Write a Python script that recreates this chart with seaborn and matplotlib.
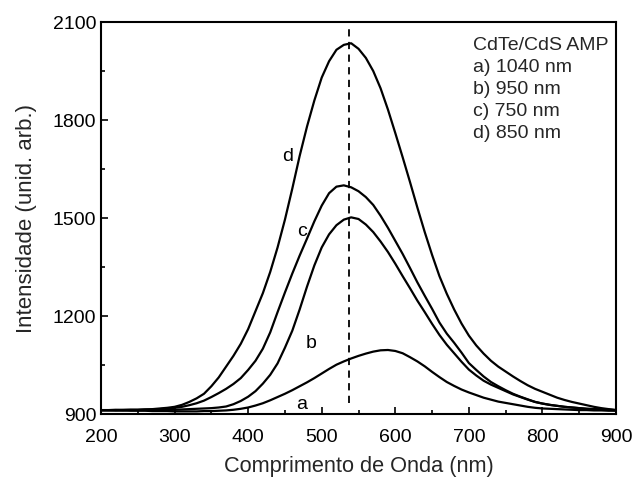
import numpy as np
import pandas as pd
import seaborn as sns
import matplotlib
matplotlib.use("Agg")
import matplotlib.pyplot as plt
from matplotlib.ticker import MultipleLocator

wavelength = list(range(200, 901, 10))

curve_a = [912, 912, 911, 911, 910, 910, 910, 909, 909, 909,
           908, 908, 908, 908, 909, 909, 910, 911, 913, 916,
           920, 926, 933, 942, 952, 962, 973, 985, 997, 1010,
           1024, 1038, 1051, 1061, 1070, 1078, 1085, 1091, 1095, 1096,
           1093, 1086, 1074, 1061, 1046, 1029, 1013, 998, 986, 975,
           966, 958, 950, 944, 938, 934, 930, 926, 922, 919,
           917, 916, 915, 914, 913, 912, 912, 911, 911, 910, 910]

curve_b = [911, 911, 911, 911, 912, 912, 912, 912, 912, 913,
           913, 914, 915, 916, 917, 918, 920, 923, 930, 940,
           953, 970, 993, 1020, 1055, 1103, 1155, 1220, 1290, 1355,
           1410, 1450, 1478, 1495, 1502, 1497, 1480, 1457, 1428, 1396,
           1360, 1322, 1285, 1247, 1212, 1176, 1142, 1112, 1086, 1060,
           1036, 1018, 1002, 990, 980, 970, 960, 952, 944, 937,
           932, 928, 925, 922, 920, 918, 916, 915, 914, 913, 912]

curve_c = [912, 912, 912, 913, 913, 913, 914, 914, 915, 917,
           919, 922, 927, 933, 941, 952, 964, 977, 992, 1010,
           1035, 1063, 1100, 1150, 1212, 1272, 1330, 1385, 1437, 1490,
           1538, 1576, 1596, 1600, 1594, 1582, 1564, 1540, 1507, 1470,
           1430, 1390, 1347, 1303, 1262, 1222, 1180, 1146, 1118, 1088,
           1056, 1035, 1015, 998, 985, 973, 962, 953, 945, 937,
           932, 928, 925, 922, 920, 918, 916, 915, 914, 913, 912]

curve_d = [912, 912, 913, 912, 913, 913, 914, 915, 917, 919,
           922, 928, 937, 948, 962, 985, 1012, 1045, 1078, 1115,
           1160, 1215, 1270, 1335, 1410, 1495, 1590, 1690, 1780, 1860,
           1930, 1980, 2015, 2030, 2035, 2018, 1990, 1950, 1897, 1832,
           1760, 1686, 1610, 1532, 1457, 1387, 1322, 1268, 1220, 1177,
           1140, 1110, 1085, 1063, 1045, 1030, 1015, 1001, 988, 977,
           968, 959, 950, 943, 937, 932, 927, 922, 918, 915, 912]

curve_names = ["a", "b", "c", "d"]
legend_title = "CdTe/CdS AMP"
legend_lines = ["a) 1040 nm", "b) 950 nm", "c) 750 nm", "d) 850 nm"]
label_x = [473, 485, 473, 454]
label_y = [928, 1117, 1458, 1687]
peak_line_x = 537

df = pd.concat([
    pd.DataFrame({"wl": wavelength, "I": vals, "curve": name})
    for name, vals in zip(curve_names, [curve_a, curve_b, curve_c, curve_d])
])

sns.set_theme(style="ticks")
plt.rcParams["font.family"] = ["Liberation Sans", "DejaVu Sans"]

fig = plt.figure(figsize=(6.36, 4.88), dpi=100)
ax = fig.add_axes([0.1588, 0.1516, 0.8098, 0.8033])

sns.lineplot(data=df, x="wl", y="I", hue="curve", units="curve", estimator=None,
             palette=["black"] * 4, linewidth=1.6, legend=False, ax=ax)

ax.plot([peak_line_x, peak_line_x], [935, 2090], color="black", lw=1.3,
        linestyle=(0, (4, 3)))

for name, x, y in zip(curve_names, label_x, label_y):
    ax.text(x, y, name, fontsize=14, ha="center", va="center", color="black")

x0 = 0.722
ax.text(x0, 0.94, legend_title, transform=ax.transAxes, fontsize=14,
        ha="left", va="center")
for i, t in enumerate(legend_lines):
    ax.text(x0, 0.94 - 0.0558 * (i + 1), t, transform=ax.transAxes,
            fontsize=14, ha="left", va="center")

ax.set_xlim(200, 900)
ax.set_ylim(900, 2100)
ax.xaxis.set_major_locator(MultipleLocator(100))
ax.xaxis.set_minor_locator(MultipleLocator(50))
ax.yaxis.set_major_locator(MultipleLocator(300))
ax.yaxis.set_minor_locator(MultipleLocator(150))
ax.tick_params(which="both", direction="in", top=False, right=False,
               labelsize=14, width=1.2, colors="black")
ax.tick_params(which="major", length=5)
ax.tick_params(which="minor", length=3)
ax.tick_params(axis="x", which="major", pad=11)
for s in ax.spines.values():
    s.set_linewidth(1.5)
    s.set_color("black")
ax.set_xlabel("Comprimento de Onda (nm)", fontsize=15.7, labelpad=7)
ax.set_ylabel("Intensidade (unid. arb.)", fontsize=16, labelpad=11)

fig.savefig("out.png", dpi=100, facecolor="white")
